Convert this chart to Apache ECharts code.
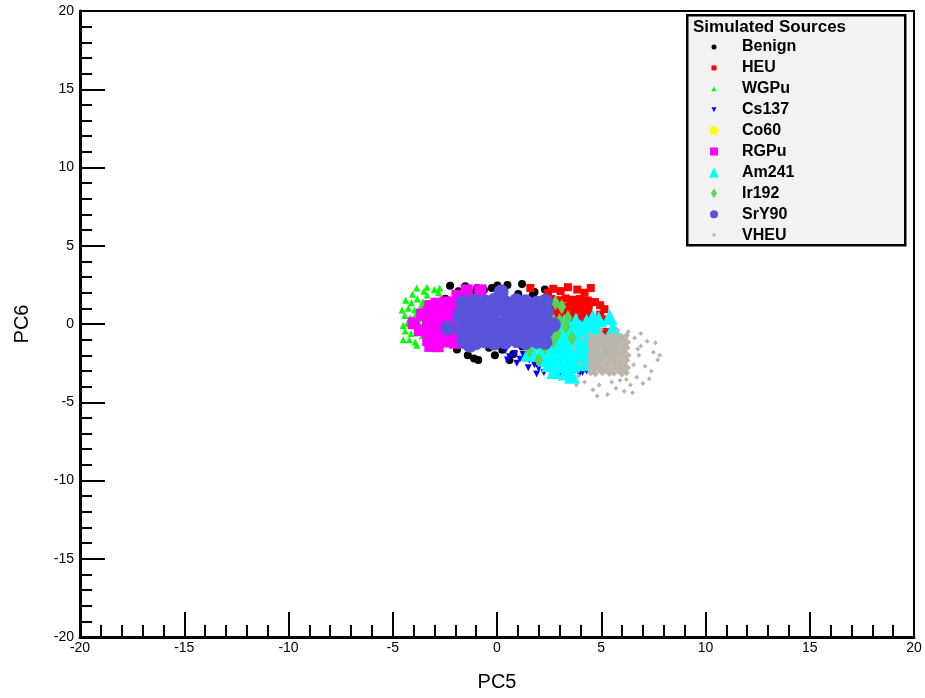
<!DOCTYPE html>
<html>
<head>
<meta charset="utf-8">
<script src="https://cdn.jsdelivr.net/npm/echarts@6.0.0/dist/echarts.min.js"></script>
<style>
  html, body { margin: 0; padding: 0; background: #fff; }
  #chart { width: 925px; height: 698px; }
</style>
</head>
<body>
<div id="chart"></div>
<script>
// PC5 / PC6 scores per simulated source
const sourceNames = ['Benign', 'HEU', 'WGPu', 'Cs137', 'Co60', 'RGPu', 'Am241', 'Ir192', 'SrY90', 'VHEU'];

const benign = [
  [-2.25, 2.45], [-1.85, 2.1], [-1.52, 2.41], [-1.15, 2.0], [-0.63, 2.18], [-0.25, 2.3], [0.28, 2.12],
  [0.5, 2.5], [1.02, 1.91], [1.2, 2.55], [1.71, 1.83], [1.8, 2.05], [2.42, 1.72], [-2.48, 1.62],
  [-1.31, 1.58], [0.02, 2.46], [2.3, 2.2], [-0.95, 2.3],
  [-1.92, -1.63], [-1.4, -2.0], [-1.18, -1.42], [-0.9, -2.3], [-0.38, -1.52], [-0.1, -2.0], [0.25, -1.65],
  [0.79, -1.91], [1.21, -1.44], [-1.62, -1.25], [-0.12, -1.33], [-1.1, -2.2], [0.6, -2.3],
  [-1.02, 0.52], [0.03, -0.04], [1.04, -0.48], [0.51, 0.83], [-0.47, -0.61], [1.52, 0.37],
  [-2.62, -0.93], [-2.83, 1.04], [-3.0, -0.8], [2.2, -0.9]
];

const heu = [
  [2.6, 1.6], [2.95, 1.52], [3.3, 1.63], [3.62, 1.55], [3.98, 1.6], [4.35, 1.5],
  [2.65, 1.15], [3.0, 1.2], [3.33, 1.08], [3.7, 1.18], [4.02, 1.12], [4.4, 1.2],
  [2.58, 0.7], [2.92, 0.78], [3.28, 0.66], [3.66, 0.74], [4.05, 0.69], [4.38, 0.8],
  [2.62, 0.28], [3.02, 0.22], [3.35, 0.3], [3.72, 0.2], [4.08, 0.27], [4.42, 0.33],
  [2.8, -0.2], [3.5, -0.3], [4.1, -0.15], [3.2, -0.6], [3.9, -0.7],
  [2.78, 1.38], [3.15, 0.95], [3.52, 1.4], [3.85, 0.92], [4.22, 1.35], [2.8, 0.5], [3.5, 0.48], [4.2, 0.52],
  [2.7, 2.25], [3.05, 2.1], [3.4, 2.35], [3.85, 2.2], [4.2, 2.0], [4.5, 2.3], [2.45, 2.0],
  [1.6, 2.3], [4.7, 1.4], [4.95, 1.2], [5.15, 0.95], [4.95, 0.6], [5.05, 0.3], [4.6, 0.05],
  [5.2, -0.5], [4.75, -0.85], [2.2, 1.2], [1.9, 0.5]
];

const wgpu = [
  [-4.38, 1.52], [-4.1, 1.35], [-3.82, 1.6], [-3.55, 1.42], [-4.25, 1.0], [-3.95, 0.9], [-3.65, 1.1],
  [-4.42, 0.55], [-4.15, 0.4], [-3.88, 0.62], [-3.6, 0.35], [-4.3, 0.05], [-4.02, -0.1], [-3.75, 0.12],
  [-3.5, -0.2], [-4.4, -0.45], [-4.12, -0.6], [-3.85, -0.5], [-3.58, -0.75], [-4.2, -1.0], [-3.92, -1.15],
  [-4.5, -1.0], [-3.85, -1.35], [-3.85, 2.3], [-3.5, 2.1], [-3.35, 2.35], [-3.0, 2.2], [-2.75, 2.3],
  [-3.35, 1.85], [-4.05, 1.9], [-3.3, -1.1], [-3.0, -1.3], [-2.8, 2.0], [-4.55, 0.9], [-4.5, -0.1]
];

const cs137 = [
  [0.4, -1.7], [0.6, -2.1], [0.85, -1.9], [1.1, -2.25], [1.25, -1.95], [0.5, -2.3], [1.55, -2.3],
  [1.8, -2.6], [2.0, -2.85], [2.25, -3.1], [2.45, -2.75], [2.7, -3.2], [2.9, -2.9], [3.1, -3.3],
  [3.3, -3.05], [3.55, -3.25], [3.75, -2.95], [3.95, -3.2], [4.1, -3.1], [1.9, -3.2], [2.15, -2.5],
  [2.6, -2.55], [3.45, -2.7], [1.5, -2.8], [0.95, -2.5], [1.7, -1.9], [4.3, -3.0], [2.8, -2.4],
  [3.0, -3.4], [3.4, -0.05]
];

const co60 = [];

const rgpu = [
  [-3.28, 0.82], [-3.31, 0.22], [-3.26, -0.41], [-3.3, -1.02],
  [-2.9, 1.3], [-2.86, 0.7], [-2.92, 0.08], [-2.85, -0.55], [-2.89, -1.18],
  [-2.46, 1.38], [-2.43, 0.75], [-2.48, 0.12], [-2.42, -0.5], [-2.47, -1.12],
  [-2.03, 1.33], [-2.0, 0.68], [-2.05, 0.05], [-1.98, -0.57], [-2.02, -1.2],
  [-1.6, 1.4], [-1.58, 0.74], [-1.62, 0.1], [-1.57, -0.48], [-1.61, -1.15],
  [-1.14, 1.36], [-1.18, 0.7], [-1.12, 0.06], [-1.16, -0.54], [-1.13, -1.14],
  [-0.7, 1.3], [-0.68, -0.4], [-0.3, 0.5], [0.2, 1.2], [0.5, -0.9], [1.0, 0.3],
  [-4.0, 0.05], [-3.7, -0.4], [-3.2, -1.4], [-2.85, -1.42], [-1.45, 2.15], [-0.8, 2.15],
  [-3.2, 1.15], [-2.7, 1.05], [-3.6, 0.6], [-1.9, 1.8]
];

const am241 = [
  [2.12, 0.18], [2.68, 0.25], [3.22, 0.12], [3.78, 0.22], [4.3, 0.15], [4.88, 0.3],
  [2.08, -0.48], [2.62, -0.55], [3.18, -0.42], [3.72, -0.52], [4.28, -0.45], [4.82, -0.4],
  [2.15, -1.22], [2.7, -1.15], [3.25, -1.25], [3.8, -1.18], [4.35, -1.2], [4.9, -1.1],
  [2.1, -1.88], [2.6, -1.95], [3.15, -1.85], [3.7, -1.92], [4.25, -1.9], [4.8, -1.85],
  [2.5, -2.55], [3.05, -2.65], [3.6, -2.6], [4.15, -2.5], [4.7, -2.45],
  [2.38, -0.13], [2.93, -0.18], [3.48, -0.1], [4.03, -0.2], [4.58, -0.12],
  [2.42, -0.83], [2.97, -0.88], [3.52, -0.8], [4.07, -0.86], [4.62, -0.78],
  [2.36, -1.55], [2.91, -1.5], [3.46, -1.58], [4.01, -1.52], [4.56, -1.57],
  [2.4, -2.22], [2.95, -2.28], [3.5, -2.2], [4.05, -2.26], [4.6, -2.18],
  [1.65, -1.6], [1.5, -1.9], [1.8, -0.9], [5.4, 0.45], [5.55, -0.3], [5.35, -1.0], [5.7, -0.6],
  [3.3, -3.1], [3.6, -3.3], [2.75, -3.0], [4.6, 0.45], [2.4, 0.55], [5.2, -1.7]
];

const ir192 = [
  [1.6, 0.9], [2.0, 1.2], [2.4, 0.8], [2.8, 1.35], [3.1, 1.1], [1.8, 0.3], [2.2, 0.1], [2.6, 0.45],
  [3.0, 0.2], [3.4, 0.4], [1.7, -0.4], [2.1, -0.7], [2.5, -0.3], [2.9, -0.6], [1.9, -1.2],
  [2.3, -1.5], [2.7, -1.1], [1.55, -1.7], [2.0, -2.3], [3.3, -0.2], [3.6, -0.9], [1.3, -0.9], [1.5, 0.5]
];

const sry90 = [
  [-1.62, 1.38], [-1.08, 1.47], [-0.57, 1.41], [-0.12, 1.52], [0.41, 1.36], [0.93, 1.49], [1.38, 1.42], [1.91, 1.33], [2.32, 1.45],
  [-1.71, 0.77], [-1.13, 0.84], [-0.61, 0.72], [-0.07, 0.88], [0.44, 0.79], [0.87, 0.7], [1.42, 0.86], [1.86, 0.74], [2.38, 0.81],
  [-1.55, 0.12], [-1.04, 0.21], [-0.53, 0.09], [-0.15, 0.18], [0.37, 0.06], [0.95, 0.16], [1.33, 0.11], [1.94, 0.2], [2.41, 0.08],
  [-1.66, -0.47], [-1.1, -0.56], [-0.64, -0.43], [-0.09, -0.52], [0.46, -0.48], [0.9, -0.58], [1.45, -0.44], [1.88, -0.53], [2.36, -0.46],
  [-1.58, -1.12], [-1.02, -1.19], [-0.55, -1.08], [-0.13, -1.21], [0.39, -1.14], [0.97, -1.06], [1.36, -1.18], [1.92, -1.1], [2.3, -1.16],
  [-1.35, 1.1], [-0.35, 1.15], [0.65, 1.1], [1.65, 1.12], [-1.3, -0.15], [-0.3, -0.2], [0.7, -0.18], [1.7, -0.15], [2.1, 0.45],
  [-2.35, -0.25], [-1.8, 0.45], [-1.3, -1.35], [0.2, 2.05], [2.7, -0.05]
];

// VHEU: dense core and the sparse halo of small marks around it
const vheuCore = [
  [4.47, -0.72], [4.78, -0.8], [5.03, -0.7], [5.38, -0.77], [5.62, -0.71], [5.97, -0.79], [6.22, -0.74],
  [4.43, -1.17], [4.74, -1.12], [5.08, -1.19], [5.33, -1.13], [5.68, -1.18], [5.93, -1.11], [6.27, -1.16],
  [4.48, -1.53], [4.77, -1.58], [5.04, -1.52], [5.36, -1.57], [5.63, -1.54], [5.98, -1.59], [6.24, -1.51],
  [4.44, -1.97], [4.73, -1.92], [5.07, -1.98], [5.34, -1.93], [5.67, -1.96], [5.94, -1.91], [6.28, -1.99],
  [4.46, -2.33], [4.79, -2.38], [5.02, -2.32], [5.37, -2.37], [5.64, -2.34], [5.96, -2.39], [6.23, -2.31],
  [4.45, -2.77], [4.76, -2.72], [5.06, -2.78], [5.32, -2.73], [5.66, -2.76], [5.92, -2.71], [6.26, -2.79],
  [4.49, -3.13], [4.72, -3.18], [5.05, -3.12], [5.39, -3.17], [5.61, -3.14], [5.99, -3.19], [6.21, -3.11],
  [4.61, -0.94], [4.92, -0.97], [5.19, -0.93], [5.51, -0.96], [5.79, -0.92], [6.12, -0.98],
  [4.59, -1.36], [4.9, -1.33], [5.22, -1.37], [5.48, -1.34], [5.82, -1.38], [6.09, -1.32],
  [4.62, -1.74], [4.88, -1.77], [5.21, -1.73], [5.52, -1.76], [5.78, -1.72], [6.11, -1.78],
  [4.58, -2.16], [4.91, -2.13], [5.18, -2.17], [5.49, -2.14], [5.81, -2.18], [6.08, -2.12],
  [4.6, -2.54], [4.93, -2.57], [5.2, -2.53], [5.53, -2.56], [5.77, -2.52], [6.13, -2.58],
  [4.63, -2.96], [4.89, -2.93], [5.23, -2.97], [5.47, -2.94], [5.83, -2.98], [6.1, -2.92]
];
const vheuHalo = [
  [6.6, -0.9], [6.9, -1.4], [7.2, -1.1], [7.5, -1.8], [7.7, -2.3], [6.8, -2.0], [7.1, -2.7], [7.4, -3.0],
  [6.7, -3.4], [7.0, -3.8], [6.4, -3.9], [6.1, -4.3], [5.7, -4.1], [5.3, -4.5], [4.9, -3.9], [4.6, -4.2],
  [4.2, -3.7], [3.9, -3.3], [4.0, -2.5], [3.7, -1.5], [4.1, -0.9], [5.0, -0.35], [5.8, -0.4], [6.3, -0.5],
  [7.6, -1.2], [6.5, -4.4], [5.5, -3.7], [7.3, -3.5], [4.8, -4.6], [6.9, -0.6], [6.55, -2.6], [6.75, -1.6],
  [3.8, -3.9], [5.9, -3.6], [7.8, -2.0], [6.2, -3.55]
];

const sourceData = [benign, heu, wgpu, cs137, co60, rgpu, am241, ir192, sry90, vheuCore];

// marker style per source (ROOT-like)
const markerColors = ['#000000', '#ff0000', '#00ff00', '#0000ff', '#ffff00', '#ff00ff', '#00ffff', '#59d454', '#5954d9', '#bdb5ac'];
const markerSymbols = ['circle', 'rect', 'triangle', 'triangle', 'circle', 'rect', 'triangle', 'diamond', 'circle', 'diamond'];
const markerRotate = [0, 0, 0, 180, 0, 0, 0, 0, 0, 0];
const markerSizes = [8, 8, 7, 7, 12, 12, 16, [9, 15], 15, 7];
// legend icons
const legendIcons = ['circle', 'rect', 'triangle', 'path://M0,0L10,0L5,10Z', 'circle', 'rect', 'triangle', 'diamond', 'circle', 'diamond'];
const legendIconW = [5, 5, 5, 5, 9, 8, 10, 6, 8, 4];
const legendIconH = [5, 5, 5, 5, 9, 8, 10, 10, 8, 4];

const FONT = '"Liberation Sans", Arial, Helvetica, sans-serif';
const chart = echarts.init(document.getElementById('chart'));

const legendX = 714, legendTextX = 742, legendRow0 = 47, legendRowStep = 20.9;

const legends = sourceNames.map((name, i) => ({
  data: [{ name: name, icon: legendIcons[i] }],
  orient: 'vertical',
  left: legendX - legendIconW[i] / 2,
  top: legendRow0 + i * legendRowStep - 8,
  padding: 0,
  itemWidth: legendIconW[i],
  itemHeight: legendIconH[i],
  selectedMode: false,
  textStyle: {
    color: '#000', fontWeight: 'bold', fontSize: 16, fontFamily: FONT,
    padding: [0, 0, 0, legendTextX - legendX - legendIconW[i] / 2 - 5]
  }
}));

const series = sourceNames.map((name, i) => ({
  name: name,
  type: 'scatter',
  data: sourceData[i],
  symbol: markerSymbols[i],
  symbolSize: markerSizes[i],
  symbolRotate: markerRotate[i],
  itemStyle: { color: markerColors[i], opacity: 1 },
  emphasis: { disabled: true },
  silent: true
}));
// halo shares the VHEU name so it stays one legend entry
series.push({
  name: 'VHEU',
  type: 'scatter',
  data: vheuHalo,
  symbol: 'diamond',
  symbolSize: 5,
  itemStyle: { color: markerColors[9], opacity: 1 },
  emphasis: { disabled: true },
  silent: true
});

function axisCommon(name, nameGap) {
  return {
    type: 'value',
    min: -20,
    max: 20,
    interval: 5,
    name: name,
    nameLocation: 'middle',
    nameGap: nameGap,
    nameTextStyle: { color: '#000', fontSize: 20, fontFamily: FONT },
    axisLine: { show: true, onZero: false, lineStyle: { color: '#000', width: 3 } },
    axisTick: { show: true, inside: true, length: 25, lineStyle: { color: '#000', width: 2 } },
    minorTick: { show: true, splitNumber: 5, length: 12, lineStyle: { color: '#000', width: 2 } },
    splitLine: { show: false },
    minorSplitLine: { show: false },
    axisLabel: { color: '#000', fontSize: 14, fontFamily: FONT }
  };
}

const xAxis = axisCommon('PC5', 35);
xAxis.axisLabel.margin = 4;
const yAxis = axisCommon('PC6', 48);
yAxis.axisLabel.margin = 6;

chart.setOption({
  animation: false,
  backgroundColor: '#fff',
  textStyle: { fontFamily: FONT },
  grid: {
    left: 80, right: 11, top: 11, bottom: 61,
    show: true, borderColor: '#000', borderWidth: 2, backgroundColor: 'transparent'
  },
  title: {
    text: 'Simulated Sources',
    left: 693,
    top: 19,
    padding: 0,
    textStyle: { color: '#000', fontWeight: 'bold', fontSize: 17, fontFamily: FONT }
  },
  graphic: [{
    type: 'rect',
    left: 686, top: 14,
    shape: { width: 218, height: 230 },
    style: { fill: '#f2f2f2', stroke: '#000', lineWidth: 2.5 },
    z: 1
  }],
  legend: legends,
  xAxis: xAxis,
  yAxis: yAxis,
  series: series
});
</script>
</body>
</html>
